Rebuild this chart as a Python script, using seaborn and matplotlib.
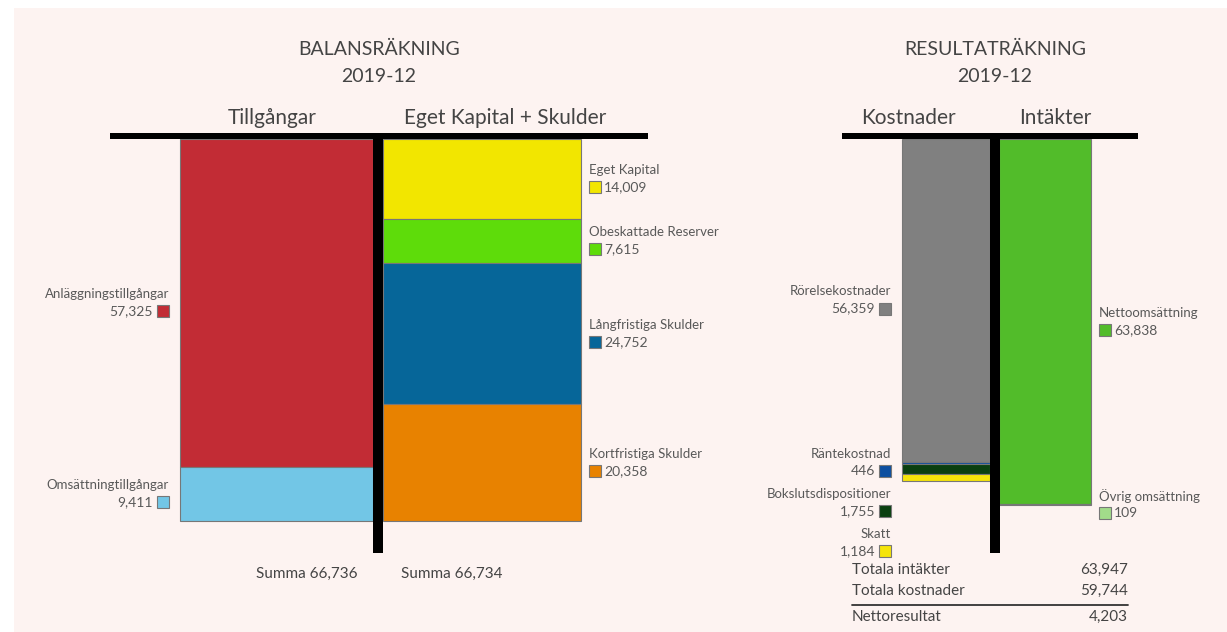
import numpy as np
import matplotlib
matplotlib.use('Agg')
import matplotlib.pyplot as plt
import seaborn as sns
from matplotlib.patches import Rectangle
from matplotlib.transforms import ScaledTranslation

# --- data ---
assets = ['Anläggningstillgångar', 'Omsättningtillgångar']
assets_val = [57325, 9411]
assets_col = ['#c22c35', '#72c6e6']

liab = ['Eget Kapital', 'Obeskattade Reserver', 'Långfristiga Skulder', 'Kortfristiga Skulder']
liab_val = [14009, 7615, 24752, 20358]
liab_col = ['#f2e600', '#5edc0a', '#066699', '#e88200']

costs = ['Rörelsekostnader', 'Räntekostnad', 'Bokslutsdispositioner', 'Skatt']
costs_val = [56359, 446, 1755, 1184]
costs_col = ['#808080', '#0d4fa0', '#0a4010', '#f5e50a']

income = ['Nettoomsättning', 'Övrig omsättning']
income_val = [63838, 109]
income_col = ['#52bc2a', '#a2dc8a']

period = '2019-12'

W, H = 1227, 632
BG = '#fdf3f1'
TXT = '#444444'
LBL = '#595959'
UPP = 1000 / 5.724  # value units per pixel

sns.set_theme(style='white')
plt.rcParams['font.family'] = ['Lato', 'DejaVu Sans']

fig = plt.figure(figsize=(W / 100, H / 100), dpi=100, facecolor='white')
fig.patches.append(Rectangle((14 / W, 0), 1, 1 - 8 / H, transform=fig.transFigure,
                             facecolor=BG, edgecolor='none', zorder=-10))


def fx(px):
    return px / W


def fy(py):
    return 1 - py / H


def fmt(v):
    return f'{v:,}'


def make_axes(left_px, right_px):
    top_px, bot_px = 130, 553
    ax = fig.add_axes([fx(left_px), fy(bot_px), (right_px - left_px) / W, (bot_px - top_px) / H])
    ax.set_facecolor('none')
    ax.set_ylim((bot_px - 139) * UPP, -(139 - top_px) * UPP)
    ax.set_axis_off()
    return ax


def stack(ax, x0, x1, vals, cols, names, side, min_gap_px=0):
    bottoms = np.concatenate([[0], np.cumsum(vals)[:-1]])
    ax.bar(x0, vals, width=x1 - x0, bottom=bottoms, align='edge', color=cols,
           edgecolor='#777777', linewidth=0.8, zorder=2)
    mids = bottoms + np.array(vals) / 2
    ys = []
    for m in mids:
        if ys and m - ys[-1] < min_gap_px * UPP:
            m = ys[-1] + min_gap_px * UPP
        ys.append(m)
    shift = ax.transData + ScaledTranslation(0, -6 / 72, fig.dpi_scale_trans)
    for name, v, c, y in zip(names, vals, cols, ys):
        if side == 'left':
            sq = x0 - 17
            ax.annotate(name, (sq + 6, y), xytext=(0, 6.5), textcoords='offset points',
                        ha='right', va='center', fontsize=9.5, color=LBL, annotation_clip=False)
            ax.annotate(fmt(v), (sq - 10, y), xytext=(0, -6), textcoords='offset points',
                        ha='right', va='center', fontsize=10, color=LBL, annotation_clip=False)
        else:
            sq = x1 + 14
            ax.annotate(name, (sq - 6, y), xytext=(0, 6.5), textcoords='offset points',
                        ha='left', va='center', fontsize=9.5, color=LBL, annotation_clip=False)
            ax.annotate(fmt(v), (sq + 9, y), xytext=(0, -6), textcoords='offset points',
                        ha='left', va='center', fontsize=10, color=LBL, annotation_clip=False)
        ax.plot([sq], [y], marker='s', markersize=8, color=c, mec='#777777', mew=0.8,
                clip_on=False, transform=shift, zorder=3)


def frame(ax, x_left, x_right):
    ax.set_xlim(x_left, x_right)
    ylo = ax.get_ylim()[0]
    ax.axhspan(-6 * UPP, 0, color='black', lw=0, zorder=4)
    ax.bar(-5, ylo, width=10, bottom=0, align='edge', color='black',
           edgecolor='none', linewidth=0, zorder=4)


# --- balance sheet ---
ax1 = make_axes(110, 648)
frame(ax1, -268, 270)
stack(ax1, -198, -5, assets_val, assets_col, assets, 'left')
stack(ax1, 5, 203, liab_val, liab_col, liab, 'right')

fig.text(fx(379), fy(49), 'BALANSRÄKNING', ha='center', va='center', fontsize=14, color=TXT)
fig.text(fx(379), fy(77), period, ha='center', va='center', fontsize=14, color=TXT)
fig.text(fx(272), fy(118), 'Tillgångar', ha='center', va='center', fontsize=15, color=TXT)
fig.text(fx(505), fy(118), 'Eget Kapital + Skulder', ha='center', va='center', fontsize=15, color=TXT)
fig.text(fx(357), fy(574), f'Summa {fmt(sum(assets_val))}', ha='right', va='center',
         fontsize=11, color=TXT)
fig.text(fx(401), fy(574), f'Summa {fmt(sum(liab_val))}', ha='left', va='center',
         fontsize=11, color=TXT)

# --- income statement ---
ax2 = make_axes(842, 1138)
frame(ax2, -152.5, 143.5)
stack(ax2, -92.5, -4.5, costs_val, costs_col, costs, 'left', min_gap_px=40)
stack(ax2, 4.5, 96.5, income_val, income_col, income, 'right', min_gap_px=40)

fig.text(fx(995), fy(49), 'RESULTATRÄKNING', ha='center', va='center', fontsize=14, color=TXT)
fig.text(fx(995), fy(77), period, ha='center', va='center', fontsize=14, color=TXT)
fig.text(fx(908), fy(118), 'Kostnader', ha='center', va='center', fontsize=15, color=TXT)
fig.text(fx(1055), fy(118), 'Intäkter', ha='center', va='center', fontsize=15, color=TXT)

tot_in = sum(income_val)
tot_cost = sum(costs_val)
rows = [('Totala intäkter', tot_in, 570), ('Totala kostnader', tot_cost, 591),
        ('Nettoresultat', tot_in - tot_cost, 617)]
for name, v, py in rows:
    fig.text(fx(852), fy(py), name, ha='left', va='center', fontsize=11, color=TXT)
    fig.text(fx(1128), fy(py), fmt(v), ha='right', va='center', fontsize=11, color=TXT)
fig.add_artist(plt.Line2D([fx(852), fx(1128)], [fy(605), fy(605)], color='#333333', lw=1.3))

fig.savefig('out.png', dpi=100, facecolor='white')
